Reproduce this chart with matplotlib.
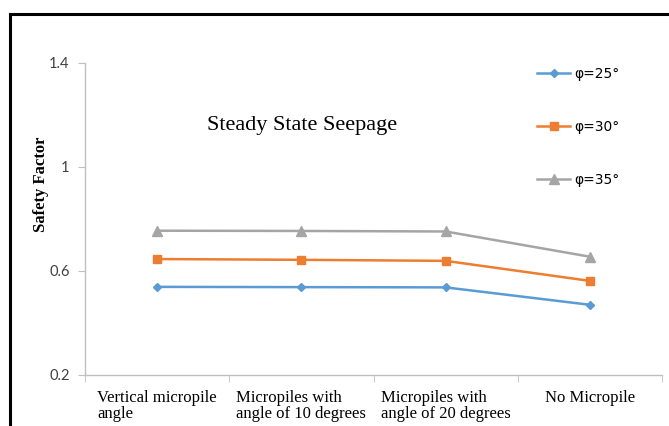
import matplotlib
matplotlib.use("Agg")
import matplotlib.pyplot as plt
from matplotlib.lines import Line2D

categories = ["Vertical micropile\nangle", "Micropiles with\nangle of 10 degrees",
              "Micropiles with\nangle of 20 degrees", "No Micropile"]
phi25 = [0.539, 0.538, 0.537, 0.470]
phi30 = [0.646, 0.643, 0.639, 0.562]
phi35 = [0.755, 0.754, 0.752, 0.655]
labels = ["φ=25°", "φ=30°", "φ=35°"]
yticks = [0.2, 0.6, 1.0, 1.4]
yticklabels = ["0.2", "0.6", "1", "1.4"]

W, H = 669, 426
fig = plt.figure(figsize=(W/100, H/100), dpi=100)
ax = fig.add_axes([85/W, 1-375/H, (662-85)/W, (375-63)/H])

x = list(range(len(categories)))
ax.plot(x, phi25, color="#5B9BD5", lw=1.8, marker="D", ms=4.5, label=labels[0])
ax.plot(x, phi30, color="#ED7D31", lw=1.8, marker="s", ms=6, label=labels[1])
ax.plot(x, phi35, color="#A5A5A5", lw=1.8, marker="^", ms=6.5, label=labels[2])

ax.set_xlim(-0.5, len(categories)-0.5)
ax.set_ylim(0.2, 1.4)
ax.set_yticks(yticks)
ax.set_yticklabels(yticklabels, fontfamily="Lato", fontsize=10.5, color="#404040")
ax.set_xticks(x)
ax.set_xticklabels(categories, fontfamily="Liberation Serif", fontsize=12,
                   multialignment="left", va="top", linespacing=1.0)
ax.set_xticks([i - 0.5 for i in range(len(categories)+1)], minor=True)
ax.tick_params(axis="x", which="major", length=0, pad=11)
ax.tick_params(axis="x", which="minor", length=5, color="#BFBFBF", direction="out")
ax.tick_params(axis="y", length=5, color="#BFBFBF", direction="out", pad=6)
for s in ["top", "right"]:
    ax.spines[s].set_visible(False)
for s in ["left", "bottom"]:
    ax.spines[s].set_color("#BFBFBF")
    ax.spines[s].set_linewidth(1.0)

ax.set_ylabel("Safety Factor", fontfamily="Liberation Serif", fontweight="bold",
              fontsize=12)
ax.yaxis.set_label_coords(-0.062, 0.61)

ax.text(0.376, 0.80, "Steady State Seepage", transform=ax.transAxes,
        fontfamily="Liberation Serif", fontsize=16, ha="center", va="center")

leg = ax.legend(loc="upper left", bbox_to_anchor=((537-85)/577, (375-67)/312),
                frameon=False, borderpad=0, borderaxespad=0, labelspacing=2.8,
                handlelength=2.4, handletextpad=0.25,
                prop={"family": "DejaVu Sans", "size": 10})

# outer frame
fig.add_artist(Line2D([10/W, 10/W], [0, 1-14/H], transform=fig.transFigure,
                      color="black", lw=2.2))
fig.add_artist(Line2D([10/W, 1], [1-14/H, 1-14/H], transform=fig.transFigure,
                      color="black", lw=2.2))

fig.savefig("out.png", dpi=100)
